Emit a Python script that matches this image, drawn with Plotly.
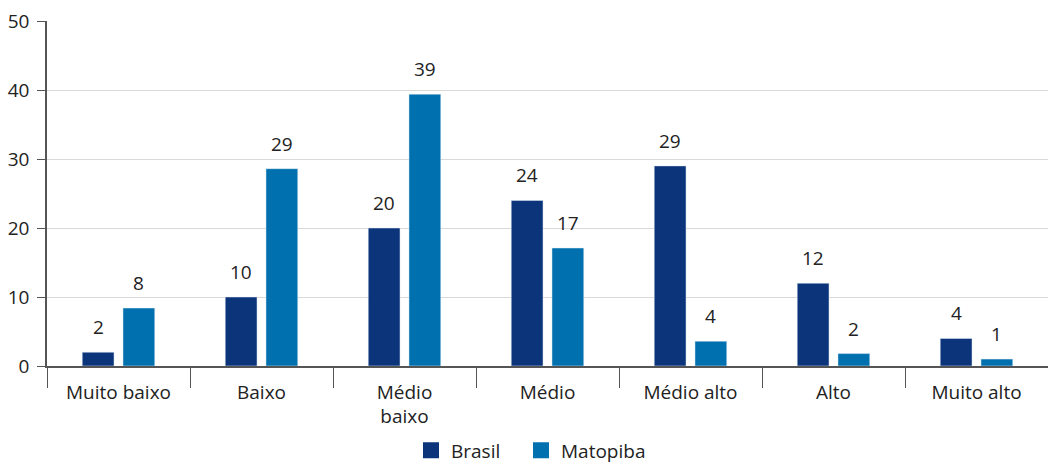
import plotly.graph_objects as go

categories = ["Muito baixo", "Baixo", "Médio<br>baixo", "Médio", "Médio alto", "Alto", "Muito alto"]
brasil = [2.0, 10.0, 20.0, 24.0, 29.0, 12.0, 4.0]
matopiba = [8.4, 28.6, 39.4, 17.1, 3.6, 1.8, 1.0]
brasil_labels = ["2", "10", "20", "24", "29", "12", "4"]
matopiba_labels = ["8", "29", "39", "17", "4", "2", "1"]
y_ticks = [0, 10, 20, 30, 40, 50]

FONT = "Open Sans"
C_BR = "#0b347a"
C_MA = "#0071ae"
W, H = 1048, 463
L, R, T, B = 47, 0, 21, 97
bargap = 0.43
cat_px = (W - L - R) / len(categories)
slot = cat_px * (1 - bargap) / 2

fig = go.Figure()
fig.add_trace(go.Bar(x=categories, y=brasil, name="Brasil", marker_color=C_BR, showlegend=False))
fig.add_trace(go.Bar(x=categories, y=matopiba, name="Matopiba", marker_color=C_MA, showlegend=False))
# legend entries with larger square symbols, one legend each for exact placement
for name, col, lg in [("Brasil", C_BR, "legend"), ("Matopiba", C_MA, "legend2")]:
    fig.add_trace(go.Scatter(x=[None], y=[None], mode="markers", name=name, legend=lg,
                             marker=dict(symbol="square", size=17, color=col)))

for vals, labels, shift in [(brasil, brasil_labels, -slot / 2), (matopiba, matopiba_labels, slot / 2)]:
    for c, v, t in zip(categories, vals, labels):
        fig.add_annotation(x=c, y=v, text=t, showarrow=False, xshift=shift, yshift=10,
                           yanchor="bottom", font=dict(size=19, color="#222222"))

leg_common = dict(orientation="h", xref="container", xanchor="left",
                  yref="container", y=0.068, yanchor="top",
                  font=dict(size=19), itemwidth=30, bgcolor="rgba(0,0,0,0)")
fig.update_layout(
    width=W, height=H, autosize=False,
    margin=dict(l=L, r=R, t=T, b=B),
    plot_bgcolor="white", paper_bgcolor="white",
    font=dict(family=FONT, size=19, color="#222222"),
    barmode="group", bargap=bargap, bargroupgap=0.22,
    showlegend=True,
    legend=dict(x=411 / W, **leg_common),
    legend2=dict(x=521 / W, **leg_common),
)
fig.update_xaxes(
    automargin=False,
    showline=True, linecolor="#555555", linewidth=1.5,
    ticks="outside", tickson="boundaries", ticklen=20, tickcolor="#555555", tickwidth=1,
    tickfont=dict(size=19), ticklabelstandoff=8,
)
fig.update_yaxes(
    automargin=False,
    range=[0, 50], tickvals=y_ticks, showgrid=True, gridcolor="#d9d9d9", gridwidth=1,
    showline=True, linecolor="#555555", linewidth=1.5,
    ticks="outside", ticklen=8, tickcolor="#555555", zeroline=False,
    tickfont=dict(size=19), ticklabelstandoff=4,
)
post = ("document.body.style.margin='0';document.body.style.overflow='hidden';"
        "var gd=document.getElementById('{plot_id}');"
        "gd.style.width='1048px';gd.style.height='463px';"
        "Plotly.relayout(gd,{width:1048,height:463});")
fig.write_html("out.html", post_script=post, config={"displayModeBar": False})
